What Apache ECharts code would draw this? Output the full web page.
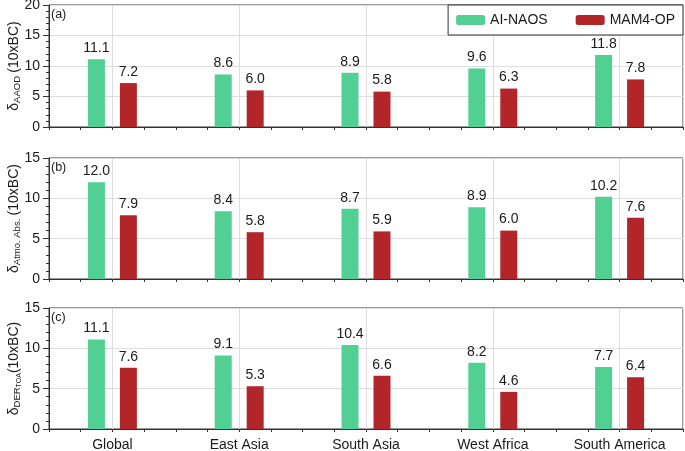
<!DOCTYPE html>
<html>
<head>
<meta charset="utf-8">
<script src="https://cdn.jsdelivr.net/npm/echarts@6/dist/echarts.min.js"></script>
<style>html,body{margin:0;padding:0;background:#fff}#c{width:685px;height:451px}</style>
</head>
<body>
<div id="c"></div>
<script>
const categories = ['Global', 'East Asia', 'South Asia', 'West Africa', 'South America'];
const seriesNames = ['AI-NAOS', 'MAM4-OP'];
const aaodAI = [11.1, 8.6, 8.9, 9.6, 11.8];
const aaodMAM = [7.2, 6.0, 5.8, 6.3, 7.8];
const atmoAI = [12.0, 8.4, 8.7, 8.9, 10.2];
const atmoMAM = [7.9, 5.8, 5.9, 6.0, 7.6];
const derAI = [11.1, 9.1, 10.4, 8.2, 7.7];
const derMAM = [7.6, 5.3, 6.6, 4.6, 6.4];
const yMax = [20, 15, 15];
const panelLabels = ['(a)', '(b)', '(c)'];
const yNames = [
  '{d|δ}{s|AAOD} {d|(10xBC)}',
  '{d|δ}{s|Atmo. Abs.} {d|(10xBC)}',
  '{d|δ}{s|DER}{ss|TOA}{d|(10xBC)}'
];

const GREEN = '#52CF93', RED = '#B22629';
const FONT = 'Liberation Sans, Arial, sans-serif';
const TXT = '#1a1a1a', AX = '#333', GRIDC = '#dddddd';
const gridTops = [5, 158, 308];
const gridH = [122, 121, 121];
const quarterTicks = [];
for (let i = 0; i <= categories.length * 4; i++) quarterTicks.push(String(i));

const grids = [], xAxes = [], yAxes = [], series = [], titles = [];
const panels = [[aaodAI, aaodMAM], [atmoAI, atmoMAM], [derAI, derMAM]];
panels.forEach((p, k) => {
  grids.push({left: 49, right: 2, top: gridTops[k], height: gridH[k], show: true,
    borderColor: AX, borderWidth: 1, backgroundColor: 'transparent',
    containLabel: false, outerBoundsMode: 'none'});
  // main category axis (bars, labels, major ticks)
  xAxes.push({type: 'category', gridIndex: k, data: categories, position: 'bottom',
    axisLine: {onZero: false, lineStyle: {color: AX, width: 1}},
    axisTick: {alignWithLabel: true, length: 6, lineStyle: {color: AX}},
    axisLabel: {show: k === 2, color: TXT, fontSize: 14, fontFamily: FONT, margin: 9},
    splitLine: {show: false}, z: 5
  });
  // helper: quarter-band minor ticks
  xAxes.push({type: 'category', gridIndex: k, data: quarterTicks, boundaryGap: false, position: 'bottom',
    axisLine: {show: false, onZero: false},
    axisTick: {show: true, length: 3, interval: 0, lineStyle: {color: AX}},
    axisLabel: {show: false},
    splitLine: {show: false}, z: 5
  });
  // helper: vertical grid lines at category centres
  xAxes.push({type: 'value', gridIndex: k, min: -0.5, max: categories.length - 0.5, splitNumber: 5,
    position: 'bottom', show: true,
    axisLine: {show: false, onZero: false}, axisTick: {show: false}, axisLabel: {show: false},
    splitLine: {show: true, lineStyle: {color: GRIDC, width: 1}}
  });
  yAxes.push({type: 'value', gridIndex: k, min: 0, max: yMax[k], interval: 5,
    name: yNames[k], nameLocation: 'middle', nameRotate: 90, nameGap: 27, nameMoveOverlap: false,
    nameTextStyle: {color: TXT, fontFamily: FONT,
      rich: {
        d: {fontSize: 14, fontFamily: FONT, color: TXT, lineHeight: 16},
        s: {fontSize: 9.5, fontFamily: FONT, color: TXT, lineHeight: 16, verticalAlign: 'bottom'},
        ss: {fontSize: 7, fontFamily: FONT, color: TXT, lineHeight: 16, verticalAlign: 'bottom', padding: [0, 0, -1, 0]}
      }},
    axisLine: {show: true, onZero: false, lineStyle: {color: AX, width: 1}},
    axisTick: {show: true, length: 6, lineStyle: {color: AX}},
    minorTick: {show: true, splitNumber: 5, length: 3, lineStyle: {color: AX}},
    axisLabel: {color: TXT, fontSize: 14, fontFamily: FONT, margin: 9},
    splitLine: {show: true, lineStyle: {color: GRIDC, width: 1}},
    minorSplitLine: {show: false}
  });
  titles.push({text: panelLabels[k], left: 51, top: gridTops[k] + 3, padding: 0,
    textStyle: {fontSize: 12.5, fontWeight: 'normal', color: TXT, fontFamily: FONT}});
  [p[0], p[1]].forEach((d, j) => {
    series.push({type: 'bar', name: seriesNames[j], xAxisIndex: 3 * k, yAxisIndex: k, data: d,
      barWidth: 17, barGap: '88%',
      itemStyle: {color: j === 0 ? GREEN : RED},
      label: {show: true, position: 'top', distance: 4, color: TXT, fontSize: 14, fontFamily: FONT,
        formatter: (v) => v.value.toFixed(1)},
      z: 3
    });
  });
});

const chart = echarts.init(document.getElementById('c'), null, {renderer: 'canvas'});
chart.setOption({
  animation: false,
  backgroundColor: '#fff',
  title: titles,
  legend: {data: seriesNames, right: 2, top: 5, orient: 'horizontal',
    borderColor: AX, borderWidth: 1, backgroundColor: '#fff',
    padding: [8, 8, 8, 8], itemGap: 28, itemWidth: 29, itemHeight: 10,
    textStyle: {fontSize: 14, color: TXT, fontFamily: FONT}},
  grid: grids,
  xAxis: xAxes,
  yAxis: yAxes,
  series: series
});
</script>
</body>
</html>
